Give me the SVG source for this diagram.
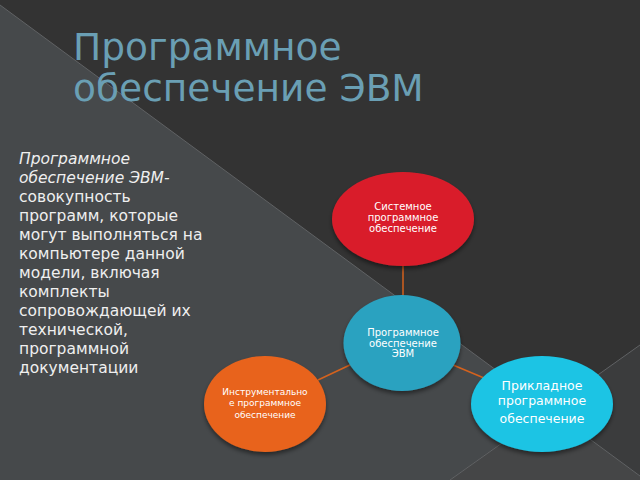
<svg xmlns="http://www.w3.org/2000/svg" width="640" height="480" viewBox="0 0 640 480">
<defs>
<filter id="sh" x="-20%" y="-20%" width="140%" height="150%">
<feDropShadow dx="0" dy="3" stdDeviation="2" flood-color="#000" flood-opacity="0.45"/>
</filter>
<style>
.t{font-family:"DejaVu Sans","Liberation Sans",sans-serif;}
.title{fill:#6a9fb4;font-size:37.5px;}
.body{fill:#efefef;font-size:15.5px;}
.nt{fill:#ffffff;font-size:10px;text-anchor:middle;}
.edge{stroke:#d4621e;stroke-width:1.5;fill:none;}
.bgl{stroke:#606264;stroke-width:1;fill:none;}
</style>
</defs>
<g id="background">
<rect x="0" y="0" width="640" height="480" fill="#333333"/>
<polygon points="0,5 549,409 450,480 0,480" fill="#46494b"/>
<polygon points="549,409 640,345 640,476" fill="#3b3c3d"/>
<polygon points="549,409 640,476 640,480 450,480" fill="#454647"/>
<line class="bgl" x1="0" y1="5" x2="640" y2="476"/>
<line class="bgl" x1="640" y1="345" x2="450" y2="480"/>
</g>
<g id="title" class="t">
<text class="t title" x="73" y="60">Программное</text>
<text class="t title" x="73" y="101">обеспечение ЭВМ</text>
</g>
<g id="description" class="t">
<text class="t body" x="19" y="164" font-style="italic">Программное</text>
<text class="t body" x="19" y="183" font-style="italic">обеспечение ЭВМ-</text>
<text class="t body" x="19" y="202">совокупность</text>
<text class="t body" x="19" y="221">программ, которые</text>
<text class="t body" x="19" y="240">могут выполняться на</text>
<text class="t body" x="19" y="259">компьютере данной</text>
<text class="t body" x="19" y="278">модели, включая</text>
<text class="t body" x="19" y="297">комплекты</text>
<text class="t body" x="19" y="316">сопровождающей их</text>
<text class="t body" x="19" y="335">технической,</text>
<text class="t body" x="19" y="354">программной</text>
<text class="t body" x="19" y="373">документации</text>
</g>
<g id="connectors">
<line class="edge" x1="403" y1="265" x2="403" y2="296"/>
<line class="edge" x1="318" y1="380" x2="352" y2="364"/>
<line class="edge" x1="453" y1="365" x2="484" y2="378"/>
</g>
<g id="node-system">
<ellipse cx="403" cy="219" rx="71" ry="47" fill="#d91f2b" filter="url(#sh)"/>
<text class="t nt" x="403" y="209.5">Системное</text>
<text class="t nt" x="403" y="220.5">программное</text>
<text class="t nt" x="403" y="231.5">обеспечение</text>
</g>
<g id="node-center">
<ellipse cx="402" cy="343" rx="58.5" ry="48" fill="#2ba2c0" filter="url(#sh)"/>
<text class="t nt" x="403" y="336">Программное</text>
<text class="t nt" x="403" y="346.5">обеспечение</text>
<text class="t nt" x="403" y="357">ЭВМ</text>
</g>
<g id="node-tools">
<ellipse cx="265" cy="404" rx="61" ry="48" fill="#e8641d" filter="url(#sh)"/>
<text class="t nt" x="265" y="395" style="font-size:9px">Инструментально</text>
<text class="t nt" x="265" y="406" style="font-size:9px">е программное</text>
<text class="t nt" x="265" y="418" style="font-size:9px">обеспечение</text>
</g>
<g id="node-applied">
<ellipse cx="542" cy="404" rx="71" ry="48" fill="#1bc4e4" filter="url(#sh)"/>
<text class="t nt" x="542" y="390" style="font-size:12.5px">Прикладное</text>
<text class="t nt" x="542" y="405" style="font-size:12.5px">программное</text>
<text class="t nt" x="542" y="423" style="font-size:12.5px">обеспечение</text>
</g>
</svg>
